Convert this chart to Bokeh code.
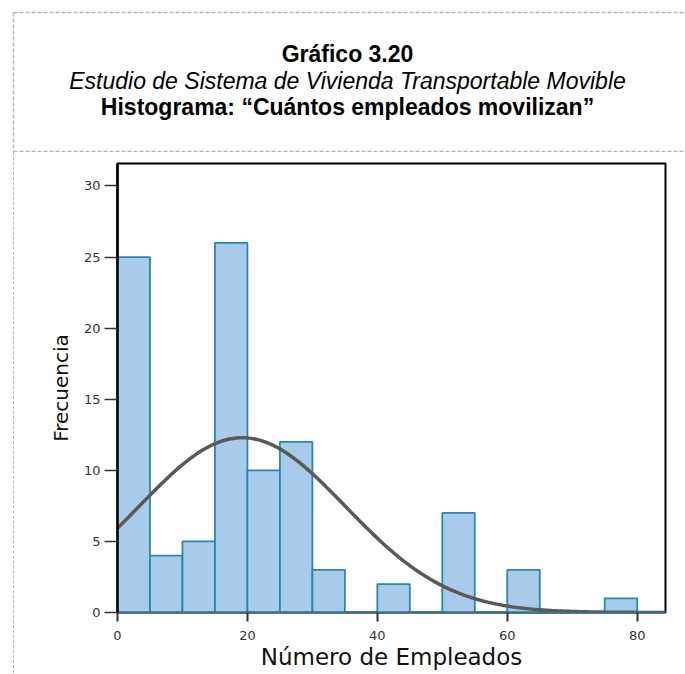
import numpy as np
from bokeh.plotting import figure
from bokeh.layouts import column, row
from bokeh.models import Range1d, FixedTicker, Div
from bokeh.core.properties import value
from bokeh.embed import file_html
from bokeh.resources import INLINE

# ---------------- data ----------------
title_lines = ["Gráfico 3.20",
               "Estudio de Sistema de Vivienda Transportable Movible",
               "Histograma: \u201cCuántos empleados movilizan\u201d"]
bin_left = [0, 5, 10, 15, 20, 25, 30, 35, 40, 45, 50, 55, 60, 65, 70, 75]
bin_width = 5
counts = [25, 4, 5, 26, 10, 12, 3, 0, 2, 0, 7, 0, 3, 0, 0, 1]
curve_mean = 19.2
curve_std = 15.9
x_ticks = [0, 20, 40, 60, 80]
y_ticks = [0, 5, 10, 15, 20, 25, 30]
x_label = "Número de Empleados"
y_label = "Frecuencia"

DASH_COLOR = "#b4b4b4"
W = 684

# ---------------- title block (page coordinates) ----------------
pt = figure(width=W, height=152, x_range=Range1d(0, W), y_range=Range1d(152, 0),
            x_axis_type=None, y_axis_type=None, toolbar_location=None,
            output_backend="svg", min_border=0, outline_line_color=None)
pt.line(x=[13, W], y=[12, 12], line_color=DASH_COLOR, line_width=1.5, line_dash="4 2")
pt.line(x=[13, W], y=[151, 151], line_color=DASH_COLOR, line_width=1.5, line_dash="4 2")
pt.line(x=[13, 13], y=[12, 152], line_color=DASH_COLOR, line_width=1.5, line_dash="4 2")
styles = ["bold", "italic", "bold"]
ys = [53, 80, 106]
for txt, st, yy in zip(title_lines, styles, ys):
    pt.text(x=[347], y=[yy], text=[txt], text_font=value("Liberation Sans"),
            text_font_size="23px", text_font_style=st, text_color="#000000",
            text_align="center", text_baseline="middle")

# ---------------- left dashed strip ----------------
strip = Div(text="", width=14, height=521, margin=0,
            styles={"border-right": "1.5px dashed #b4b4b4", "box-sizing": "border-box"})

# ---------------- histogram ----------------
p = figure(width=W - 14, height=521, x_range=Range1d(0, 84.36), y_range=Range1d(0, 31.58),
           toolbar_location=None, output_backend="svg",
           min_border_left=103, min_border_right=W - 665, min_border_top=11, min_border_bottom=61)
p.xgrid.visible = False
p.ygrid.visible = False
p.outline_line_color = "black"
p.outline_line_width = 2
p.background_fill_color = "white"

bl = np.array(bin_left, dtype=float)
p.quad(left=bl, right=bl + bin_width, bottom=0, top=counts,
       fill_color="#a8cbeb", line_color="#2a86ad", line_width=1.8)

n_total = sum(counts)
xs = np.linspace(0, 84.36, 300)
ys_curve = n_total * bin_width / (curve_std * np.sqrt(2 * np.pi)) * \
    np.exp(-0.5 * ((xs - curve_mean) / curve_std) ** 2)
p.line(xs, ys_curve, line_color="#595959", line_width=3.5)

xa = p.xaxis[0]
xa.ticker = FixedTicker(ticks=x_ticks)
xa.axis_label = x_label
xa.axis_label_text_font = "DejaVu Sans"
xa.axis_label_text_font_style = "normal"
xa.axis_label_text_font_size = "23px"
xa.axis_label_text_color = "#111111"
xa.axis_label_standoff = 1
xa.major_label_text_font = "DejaVu Sans"
xa.major_label_text_font_size = "13px"
xa.major_label_text_color = "#333333"
xa.major_label_standoff = 9
xa.major_tick_out = 9
xa.major_tick_in = 0
xa.minor_tick_out = 0
xa.minor_tick_in = 0
xa.major_tick_line_color = "#333333"
xa.major_tick_line_width = 2
xa.axis_line_color = "#3a6f86"
xa.axis_line_width = 2

ya = p.yaxis[0]
ya.ticker = FixedTicker(ticks=y_ticks)
ya.axis_label = y_label
ya.axis_label_text_font = "DejaVu Sans"
ya.axis_label_text_font_style = "normal"
ya.axis_label_text_font_size = "20px"
ya.axis_label_text_color = "#111111"
ya.axis_label_standoff = 8
ya.major_label_text_font = "DejaVu Sans"
ya.major_label_text_font_size = "13px"
ya.major_label_text_color = "#333333"
ya.major_label_standoff = 4
ya.major_tick_out = 13
ya.major_tick_in = 0
ya.minor_tick_out = 0
ya.minor_tick_in = 0
ya.major_tick_line_color = "#333333"
ya.major_tick_line_width = 1.5
ya.axis_line_color = "black"
ya.axis_line_width = 2.5

layout = column(pt, row(strip, p, spacing=0), spacing=0)
open("out.html", "w").write(file_html(layout, INLINE))
